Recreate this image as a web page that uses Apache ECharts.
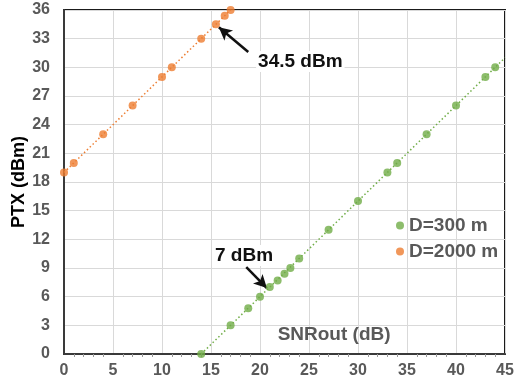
<!DOCTYPE html>
<html><head><meta charset="utf-8">
<script src="https://cdn.jsdelivr.net/npm/echarts@6/dist/echarts.min.js"></script>
<style>html,body{margin:0;padding:0;background:#fff}#c{width:516px;height:383px}</style>
</head><body><div id="c"></div>
<script>
// Data
var seriesNames = ['D=300 m', 'D=2000 m'];
var d300 = [[14,0],[17,3],[18.8,4.8],[20,6],[21,7],[21.8,7.7],[22.5,8.4],[23.1,9],[24,10],[27,13],[30,16],[33,19],[34,20],[37,23],[40,26],[43,29],[44,30]];
var d2000 = [[0,19],[1,20],[4,23],[7,26],[10,29],[11,30],[14,33],[15.5,34.5],[16.4,35.4],[17,36]];
var trend300 = [[14,0],[45,31]];
var trend2000 = [[0,19],[17,36]];
var xTicks = [0,5,10,15,20,25,30,35,40,45];
var yTicks = [0,3,6,9,12,15,18,21,24,27,30,33,36];
var xAxisName = 'SNRout (dB)';
var yAxisName = 'PTX (dBm)';
var annotations = [
  {text:'34.5 dBm', label:[19.6,30.6], tail:[18.8,31.6], head:[15.8,34.2]},
  {text:'7 dBm', label:[15.2,10.3], tail:[18.6,9.1], head:[20.7,6.9]}
];
var xNamePos = [21.8, 2.0];
var colors = ['#70ad47', '#ed7d31'];

var chart = echarts.init(document.getElementById('c'));
var gray = '#595959';
var FF = '"Liberation Sans", Arial';
var option = {
  animation:false,
  grid:{left:64, top:10, right:11, bottom:29, outerBoundsMode:'none', containLabel:false, show:true, borderColor:'#1a1a1a', borderWidth:2},
  legend:{
    orient:'vertical', left:391, top:211, itemGap:7, itemWidth:8, itemHeight:8,
    icon:'circle',
    textStyle:{color:gray, fontSize:19, fontWeight:'bold', fontFamily:FF},
    data:seriesNames
  },
  xAxis:{
    type:'value', min:xTicks[0], max:xTicks[xTicks.length-1], interval:5,
    axisLine:{show:true, lineStyle:{color:'#3a3a3a', width:2}},
    axisTick:{show:false},
    minorTick:{show:true, splitNumber:5, length:3, lineStyle:{color:'#999'}},
    axisLabel:{color:gray, fontSize:16, fontWeight:'bold', fontFamily:FF, margin:9},
    splitLine:{show:true, lineStyle:{color:'#d9d9d9', width:1}}
  },
  yAxis:{
    type:'value', min:yTicks[0], max:yTicks[yTicks.length-1], interval:3,
    axisLine:{show:true, lineStyle:{color:'#3a3a3a', width:2}},
    axisTick:{show:false},
    axisLabel:{color:gray, fontSize:16, fontWeight:'bold', fontFamily:FF, margin:14},
    splitLine:{show:true, lineStyle:{color:'#d9d9d9', width:1}}
  },
  series:[
    {name:seriesNames[0], type:'scatter', data:d300, symbolSize:8, itemStyle:{color:colors[0]}, z:5},
    {name:seriesNames[1], type:'scatter', data:d2000, symbolSize:8, itemStyle:{color:colors[1]}, z:5},
    {name:'t300', type:'line', data:trend300, symbol:'none', lineStyle:{color:colors[0], type:[1.5,2.5], width:1.5}, z:3, silent:true},
    {name:'t2000', type:'line', data:trend2000, symbol:'none', lineStyle:{color:colors[1], type:[1.5,2.5], width:1.5}, z:3, silent:true,
      markLine:{silent:true, symbol:['none','arrow'], symbolSize:[10,13], label:{show:false},
        lineStyle:{color:'#111', type:'solid', width:2.5},
        data:annotations.map(function(a){return [{coord:a.tail},{coord:a.head}];})}
    }
  ]
};
chart.setOption(option);
var g = annotations.map(function(a){
  var p = chart.convertToPixel({gridIndex:0}, a.label);
  return {type:'text', x:p[0], y:p[1], z:10,
    style:{text:a.text, fill:'#111', font:'bold 19px ' + FF, textVerticalAlign:'middle', backgroundColor:'#fff', padding:[1,2]}};
});
var np = chart.convertToPixel({gridIndex:0}, xNamePos);
g.push({type:'text', x:np[0], y:np[1], z:10,
  style:{text:xAxisName, fill:gray, font:'bold 19px ' + FF, textVerticalAlign:'middle'}});
g.push({type:'text', x:19, y:182, rotation:Math.PI/2, z:10,
  style:{text:yAxisName, fill:'#000', font:'bold 18px ' + FF, textAlign:'center', textVerticalAlign:'middle'}});
chart.setOption({graphic:g});
</script></body></html>
